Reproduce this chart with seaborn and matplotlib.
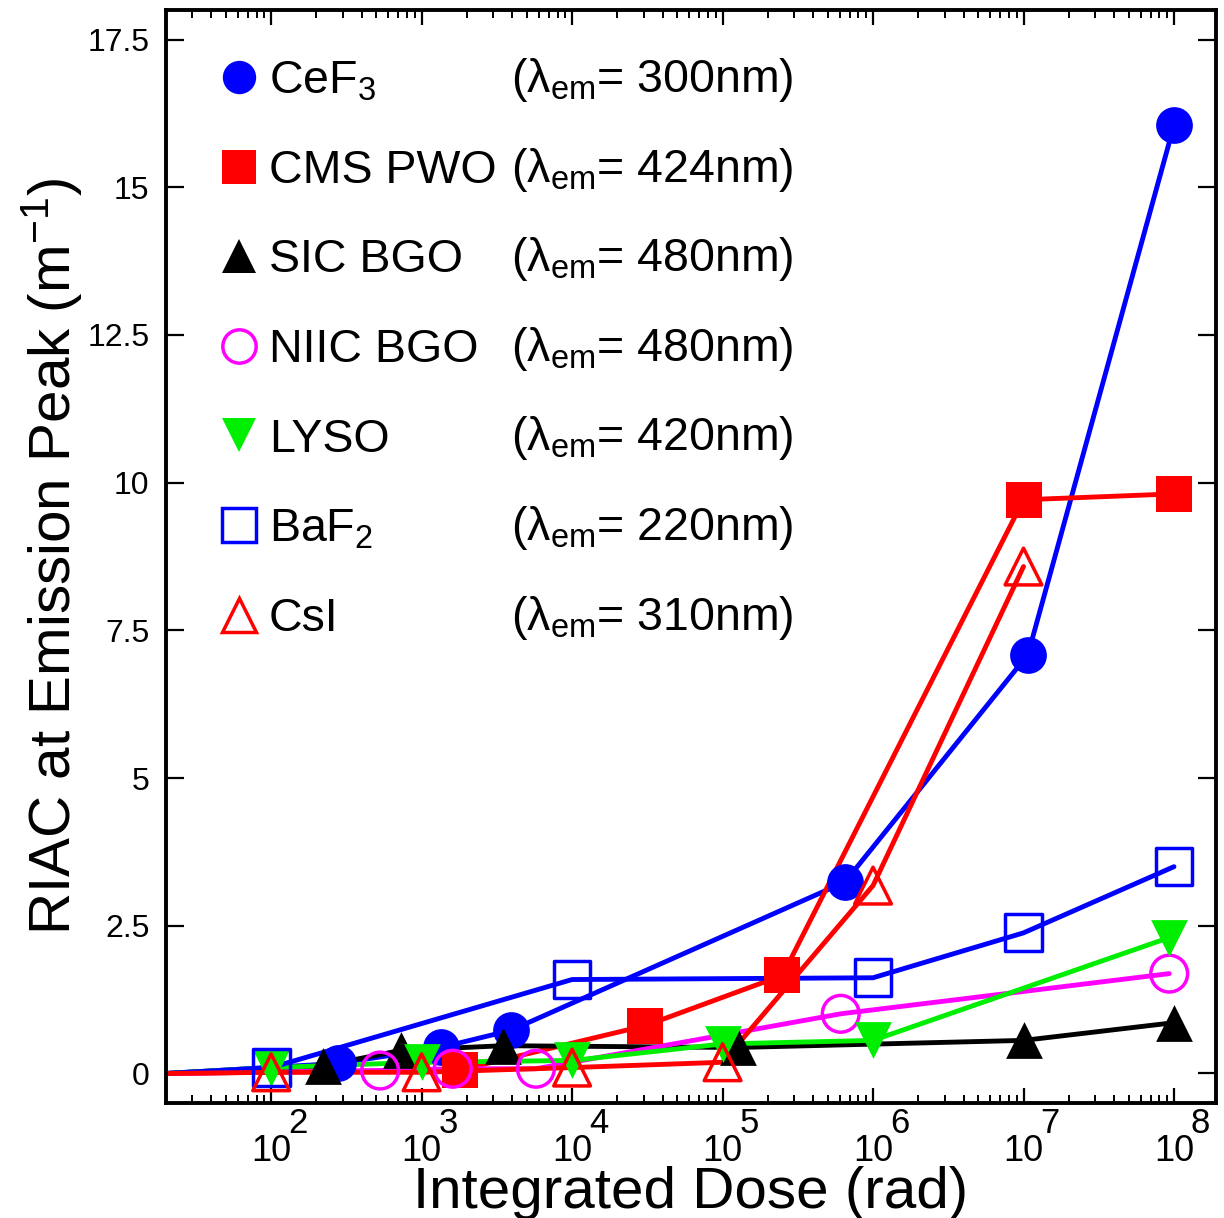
import numpy as np
import pandas as pd
import matplotlib
matplotlib.use("Agg")
import matplotlib.pyplot as plt
import matplotlib.transforms as mtransforms
from matplotlib.ticker import FixedLocator, FixedFormatter, LogLocator, NullFormatter
from matplotlib.lines import Line2D
import seaborn as sns

# ---------------- data ----------------
origin_dose = 20.0  # zero-dose start of every curve (left edge)

cef3_dose = [280, 1340, 3920, 6.5e5, 1.07e7, 1.0e8]
cef3_riac = [0.17, 0.44, 0.73, 3.24, 7.09, 16.05]

pwo_dose = [1800, 3.07e4, 2.5e5, 1.0e7, 1.0e8]
pwo_riac = [0.06, 0.81, 1.66, 9.71, 9.81]

sicbgo_dose = [222, 725, 3470, 1.26e5, 1.0e7, 1.0e8]
sicbgo_riac = [0.13, 0.39, 0.47, 0.44, 0.56, 0.86]

niicbgo_dose = [530, 1610, 5750, 6.1e5, 9.3e7]
niicbgo_riac = [0.05, 0.08, 0.08, 1.01, 1.69]

lyso_dose = [100, 1000, 1.0e4, 1.0e5, 1.0e6, 9.3e7]
lyso_riac = [0.10, 0.19, 0.22, 0.50, 0.56, 2.30]

baf2_dose = [100, 1.0e4, 1.0e6, 1.0e7, 1.0e8]
baf2_riac = [0.10, 1.59, 1.62, 2.38, 3.50]

csi_dose = [100, 1000, 1.0e4, 1.0e5, 1.0e6, 1.0e7]
csi_riac = [0.02, 0.02, 0.10, 0.19, 3.18, 8.58]

names = ["CeF$_3$", "CMS PWO", "SIC BGO", "NIIC BGO", "LYSO", "BaF$_2$", "CsI"]
wavelengths = ["300", "424", "480", "480", "420", "220", "310"]
doses = [cef3_dose, pwo_dose, sicbgo_dose, niicbgo_dose, lyso_dose, baf2_dose, csi_dose]
riacs = [cef3_riac, pwo_riac, sicbgo_riac, niicbgo_riac, lyso_riac, baf2_riac, csi_riac]
colors = ["#0000ff", "#ff0000", "#000000", "#ff00ff", "#00ee00", "#0000ff", "#ff0000"]
markers = ["o", "s", "^", "o", "v", "s", "^"]
filled = [True, True, True, False, True, False, False]

x_major = [1e2, 1e3, 1e4, 1e5, 1e6, 1e7, 1e8]
x_exps = ["2", "3", "4", "5", "6", "7", "8"]
y_major = [0, 2.5, 5, 7.5, 10, 12.5, 15, 17.5]
y_labels = ["0", "2.5", "5", "7.5", "10", "12.5", "15", "17.5"]

# ---------------- plot ----------------
sns.set_theme(style="white")
plt.rcParams["font.family"] = ["Liberation Sans", "DejaVu Sans"]
plt.rcParams["mathtext.fontset"] = "custom"
plt.rcParams["mathtext.rm"] = "Liberation Sans"
plt.rcParams["mathtext.it"] = "Liberation Sans:italic"
plt.rcParams["text.color"] = "black"
plt.rcParams["axes.labelcolor"] = "black"
plt.rcParams["xtick.color"] = "black"
plt.rcParams["ytick.color"] = "black"

fig = plt.figure(figsize=(12.24, 12.18), dpi=100)
ax = fig.add_axes([0.1356, 0.0944, 0.8578, 0.8974])

msize = 700
for name, d, r, c, m, f in zip(names, doses, riacs, colors, markers, filled):
    df = pd.DataFrame({"dose": [origin_dose] + list(d), "riac": [0.0] + list(r)})
    sns.lineplot(data=df, x="dose", y="riac", ax=ax, color=c, lw=3.5,
                 estimator=None, sort=False, zorder=2)
for name, d, r, c, m, f in zip(names, doses, riacs, colors, markers, filled):
    dfm = pd.DataFrame({"dose": d, "riac": r})
    if f:
        sns.scatterplot(data=dfm, x="dose", y="riac", ax=ax, marker=m, s=msize,
                        color=c, edgecolor=c, linewidth=0, zorder=3)
    else:
        sns.scatterplot(data=dfm, x="dose", y="riac", ax=ax, marker=m, s=msize,
                        facecolor="none", edgecolor=c, linewidth=2.5, zorder=3)

ax.set_xscale("log")
ax.set_xlim(origin_dose, 1.9e8)
ax.set_ylim(-0.5, 18.0)

# ticks
ax.xaxis.set_major_locator(FixedLocator(x_major))
ax.xaxis.set_major_formatter(FixedFormatter(["10"] * len(x_major)))
ax.xaxis.set_minor_locator(LogLocator(base=10, subs=np.arange(2, 10)))
ax.xaxis.set_minor_formatter(NullFormatter())
ax.yaxis.set_major_locator(FixedLocator(y_major))
ax.yaxis.set_major_formatter(FixedFormatter(y_labels))

ax.tick_params(axis="x", which="major", direction="in", length=11, width=1.6,
               top=True, bottom=True, labelsize=26, pad=22, colors="black")
ax.tick_params(axis="x", which="minor", direction="in", length=6, width=1.4,
               top=True, bottom=True)
ax.tick_params(axis="y", which="major", direction="in", length=13, width=1.6,
               left=True, right=True, labelsize=23, pad=12, colors="black")
for lbl in ax.get_xticklabels():
    lbl.set_horizontalalignment("center")

# exponents of the x tick labels
trans = mtransforms.blended_transform_factory(ax.transData, ax.transAxes)
for xv, ex in zip(x_major, x_exps):
    ax.text(xv * 1.5, -0.004, ex, transform=trans, fontsize=25,
            ha="center", va="top", color="black")

for sp in ax.spines.values():
    sp.set_linewidth(2.8)
    sp.set_color("black")

ax.set_xlabel("Integrated Dose (rad)", fontsize=42, labelpad=-2, color="black")
ax.set_ylabel("RIAC at Emission Peak (m$^{-1}$)", fontsize=42, labelpad=2, color="black")

# legend
handles = []
labels = []
for name, wl, c, m, f in zip(names, wavelengths, colors, markers, filled):
    h = Line2D([], [], linestyle="none", marker=m, markersize=24,
               markerfacecolor=c if f else "none", markeredgecolor=c,
               markeredgewidth=0 if f else 2.5)
    handles.append(h)
    labels.append(name)
leg = ax.legend(handles, labels, loc="upper left", bbox_to_anchor=(0.027, 0.972),
                frameon=False, fontsize=33.5, handletextpad=0.1, labelspacing=0.98,
                handlelength=1.1, borderaxespad=0, labelcolor="black")
# wavelength column aligned with legend rows
fig.canvas.draw()
for txt, wl in zip(leg.get_texts(), wavelengths):
    bb = txt.get_window_extent()
    yc = (bb.y0 + bb.y1) / 2.0
    xy = ax.transAxes.inverted().transform((0, yc))
    ax.text(0.329, xy[1] + 0.001, "(λ$_{\\rm em}$= " + wl + "nm)",
            transform=ax.transAxes, fontsize=33.5, ha="left", va="center",
            color="black")

fig.savefig("out.png", dpi=100)
